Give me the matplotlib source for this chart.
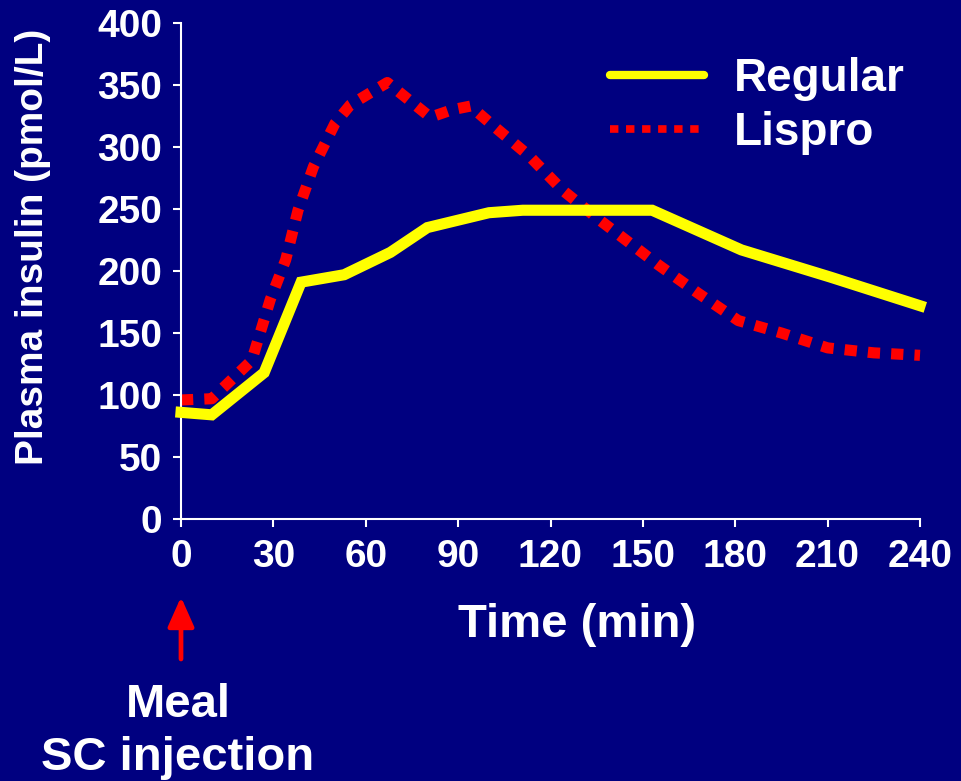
#!/usr/bin/env python3
# Plasma insulin after meal + SC injection: Regular vs Lispro

import matplotlib
matplotlib.use("Agg")
import matplotlib.pyplot as plt
from matplotlib.lines import Line2D

# Data
regular_time = [0, 10, 27, 39, 53, 68, 80, 100, 111, 153, 182, 211, 240]
regular_insulin = [86, 84, 118, 191, 197, 215, 235, 247, 249, 249, 217, 195, 172]

lispro_time = [0, 10, 23, 29, 34, 38, 43, 50, 55, 61, 67, 74, 81, 88, 94, 101,
               113, 124, 136, 155, 168, 181, 195, 210, 225, 240]
lispro_insulin = [96, 97, 128, 177, 209, 249, 284, 319, 334, 343, 352, 338, 324,
                  330, 333, 318, 293, 265, 241, 205, 182, 160, 150, 138, 134, 132]

x_ticks = [0, 30, 60, 90, 120, 150, 180, 210, 240]
y_ticks = [0, 50, 100, 150, 200, 250, 300, 350, 400]

BG = "#000080"
YELLOW = "#FFFF00"
RED = "#FF0000"

plt.rcParams["font.family"] = ["Liberation Sans", "DejaVu Sans"]
plt.rcParams["font.weight"] = "bold"

W, H = 961, 781
fig = plt.figure(figsize=(W / 100, H / 100), dpi=100, facecolor=BG)
ax = fig.add_axes([181 / W, 1 - 519 / H, (920 - 181) / W, (519 - 23) / H])
ax.set_facecolor(BG)

ax.plot(regular_time, regular_insulin, color=YELLOW, linewidth=8,
        solid_joinstyle="miter", clip_on=False, zorder=3)
ax.plot(lispro_time, lispro_insulin, color=RED, linewidth=8,
        linestyle=(0, (1.1, 1.0)), dash_capstyle="butt", clip_on=False, zorder=2)

ax.set_xlim(0, 240)
ax.set_ylim(0, 400)
ax.set_xticks(x_ticks)
ax.set_yticks(y_ticks)

for side in ["top", "right"]:
    ax.spines[side].set_visible(False)
for side in ["left", "bottom"]:
    ax.spines[side].set_color("white")
    ax.spines[side].set_linewidth(1.5)

ax.tick_params(axis="both", colors="white", direction="out", length=5.5,
               width=1.5, labelsize=28)
ax.tick_params(axis="y", pad=8)
ax.tick_params(axis="x", pad=9)
for lbl in ax.get_xticklabels() + ax.get_yticklabels():
    lbl.set_fontweight("bold")

# axis titles
fig.text(33 / W, 1 - 247 / H, "Plasma insulin (pmol/L)", rotation=90,
         ha="center", va="center", color="white", fontsize=28, fontweight="bold")
fig.text(577 / W, 1 - 637 / H, "Time (min)", ha="center", va="baseline",
         color="white", fontsize=34, fontweight="bold")

# legend
handles = [
    Line2D([], [], color=YELLOW, linewidth=6, solid_capstyle="round"),
    Line2D([], [], color=RED, linewidth=5.5, linestyle=(0, (1.1, 1.0)),
           dash_capstyle="butt"),
]
leg = ax.legend(handles, ["Regular", "Lispro"], loc="upper left",
                bbox_to_anchor=(610 / W, 1 - 57 / H),
                bbox_transform=fig.transFigure, frameon=False,
                fontsize=33, handlelength=2.05, handletextpad=0.65,
                labelspacing=0.22, borderpad=0, borderaxespad=0)
for t in leg.get_texts():
    t.set_color("white")
    t.set_fontweight("bold")

# meal / injection marker
ax.annotate("", xy=(0, 1 - 597 / H), xytext=(0, 1 - 659 / H),
            xycoords=("data", "figure fraction"),
            textcoords=("data", "figure fraction"),
            arrowprops=dict(arrowstyle="-|>,head_length=1.8,head_width=0.8",
                            color=RED, lw=3.4, shrinkA=0, shrinkB=0,
                            mutation_scale=10),
            annotation_clip=False)
fig.text(178 / W, 1 - 717 / H, "Meal", ha="center", va="baseline",
         color="white", fontsize=34, fontweight="bold")
fig.text(178 / W, 1 - 770 / H, "SC injection", ha="center", va="baseline",
         color="white", fontsize=34, fontweight="bold")

fig.savefig("out.png", dpi=100, facecolor=BG)
